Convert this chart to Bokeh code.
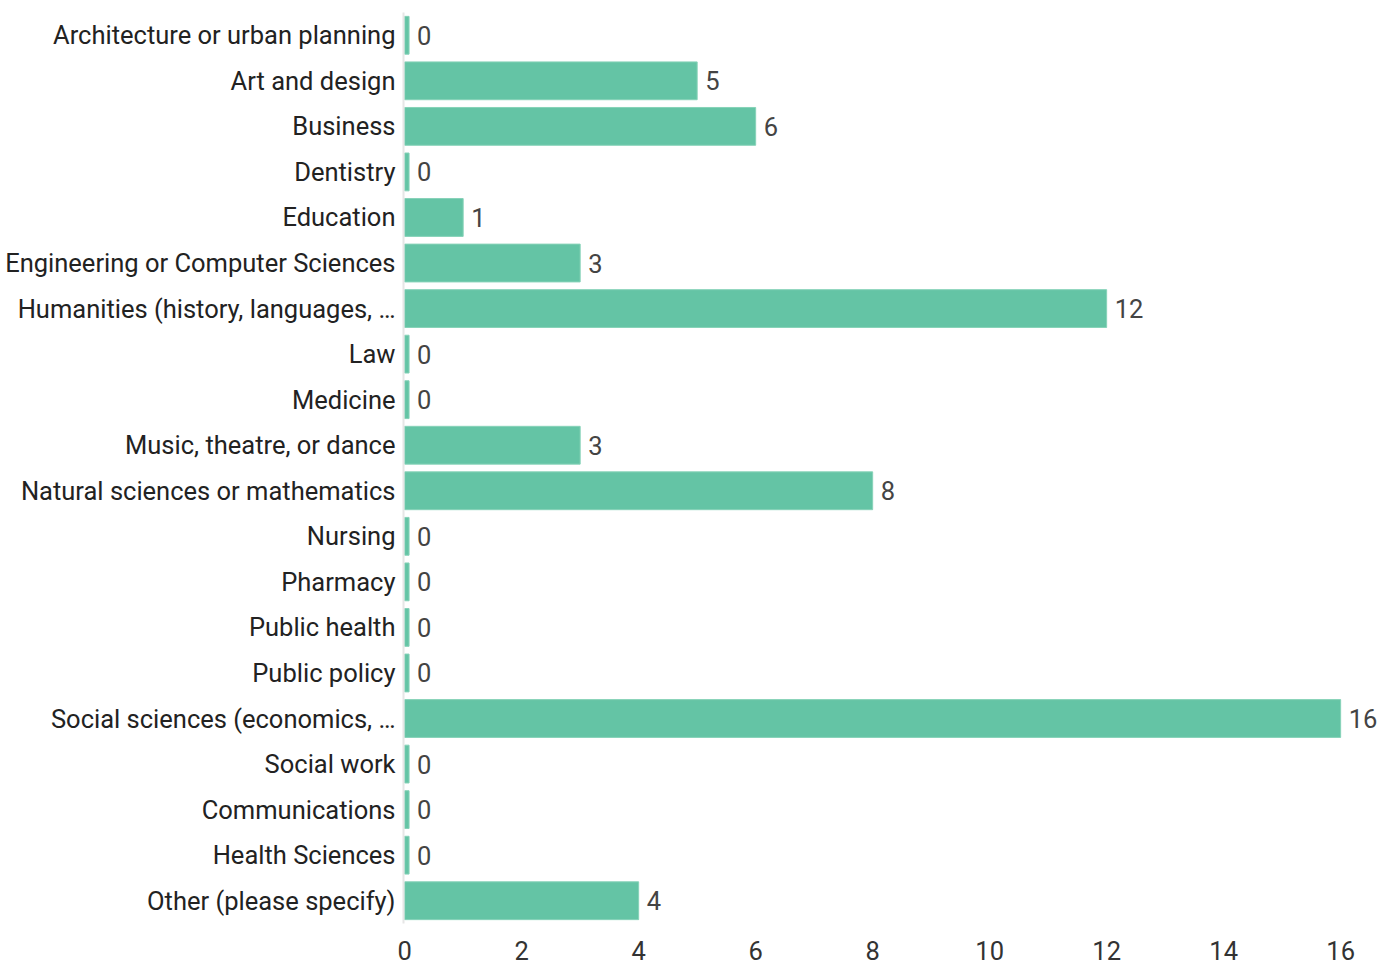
from bokeh.plotting import figure
from bokeh.models import ColumnDataSource, FixedTicker, Range1d, FactorRange
from bokeh.core.properties import value
from bokeh.embed import file_html
from bokeh.resources import INLINE

# Survey answers: field of study, with number of respondents
categories = [
    "Architecture or urban planning",
    "Art and design",
    "Business",
    "Dentistry",
    "Education",
    "Engineering or Computer Sciences",
    "Humanities (history, languages, \u2026",
    "Law",
    "Medicine",
    "Music, theatre, or dance",
    "Natural sciences or mathematics",
    "Nursing",
    "Pharmacy",
    "Public health",
    "Public policy",
    "Social sciences (economics, \u2026",
    "Social work",
    "Communications",
    "Health Sciences",
    "Other (please specify)",
]
counts = [0, 5, 6, 0, 1, 3, 12, 0, 0, 3, 8, 0, 0, 0, 0, 16, 0, 0, 0, 4]
x_ticks = [0, 2, 4, 6, 8, 10, 12, 14, 16]

FONT = "Roboto"
FONT_SIZE = "25.5px"
BAR_COLOR = "#64c4a5"
STUB = 0.075  # zero answers still get a thin visible stub

bar_end = [max(c, STUB) for c in counts]
source = ColumnDataSource(dict(
    cat=categories,
    count=counts,
    right=bar_end,
    label=[str(c) for c in counts],
))

p = figure(
    width=1377, height=964,
    y_range=FactorRange(*reversed(categories)),
    x_range=Range1d(-0.02, 16.63),
    output_backend="svg", toolbar_location=None,
    min_border_left=403, min_border_right=0,
    min_border_top=12, min_border_bottom=41,
)

p.hbar(y="cat", left=0, right="right", height=0.83, source=source,
       fill_color=BAR_COLOR, line_color="#86d2b8", line_width=1)

p.text(x="right", y="cat", text="label", source=source,
       x_offset=8, text_baseline="middle", text_align="left",
       text_font=value(FONT), text_font_size=FONT_SIZE, text_color="#444444")

p.xgrid.visible = False
p.ygrid.visible = False
p.outline_line_color = None

yax = p.yaxis[0]
yax.axis_line_color = "#e6e6e6"
yax.axis_line_width = 2
yax.major_tick_line_color = None
yax.minor_tick_line_color = None
yax.major_tick_out = 0
yax.major_tick_in = 0
yax.major_label_standoff = 8
yax.major_label_text_font = FONT
yax.major_label_text_font_size = FONT_SIZE
yax.major_label_text_color = "#222222"

xax = p.xaxis[0]
xax.ticker = FixedTicker(ticks=x_ticks)
xax.axis_line_color = None
xax.major_tick_line_color = None
xax.minor_tick_line_color = None
xax.major_tick_out = 0
xax.major_tick_in = 0
xax.major_label_standoff = 17
xax.major_label_text_font = FONT
xax.major_label_text_font_size = FONT_SIZE
xax.major_label_text_color = "#333333"

open("out.html", "w").write(file_html(p, INLINE))
